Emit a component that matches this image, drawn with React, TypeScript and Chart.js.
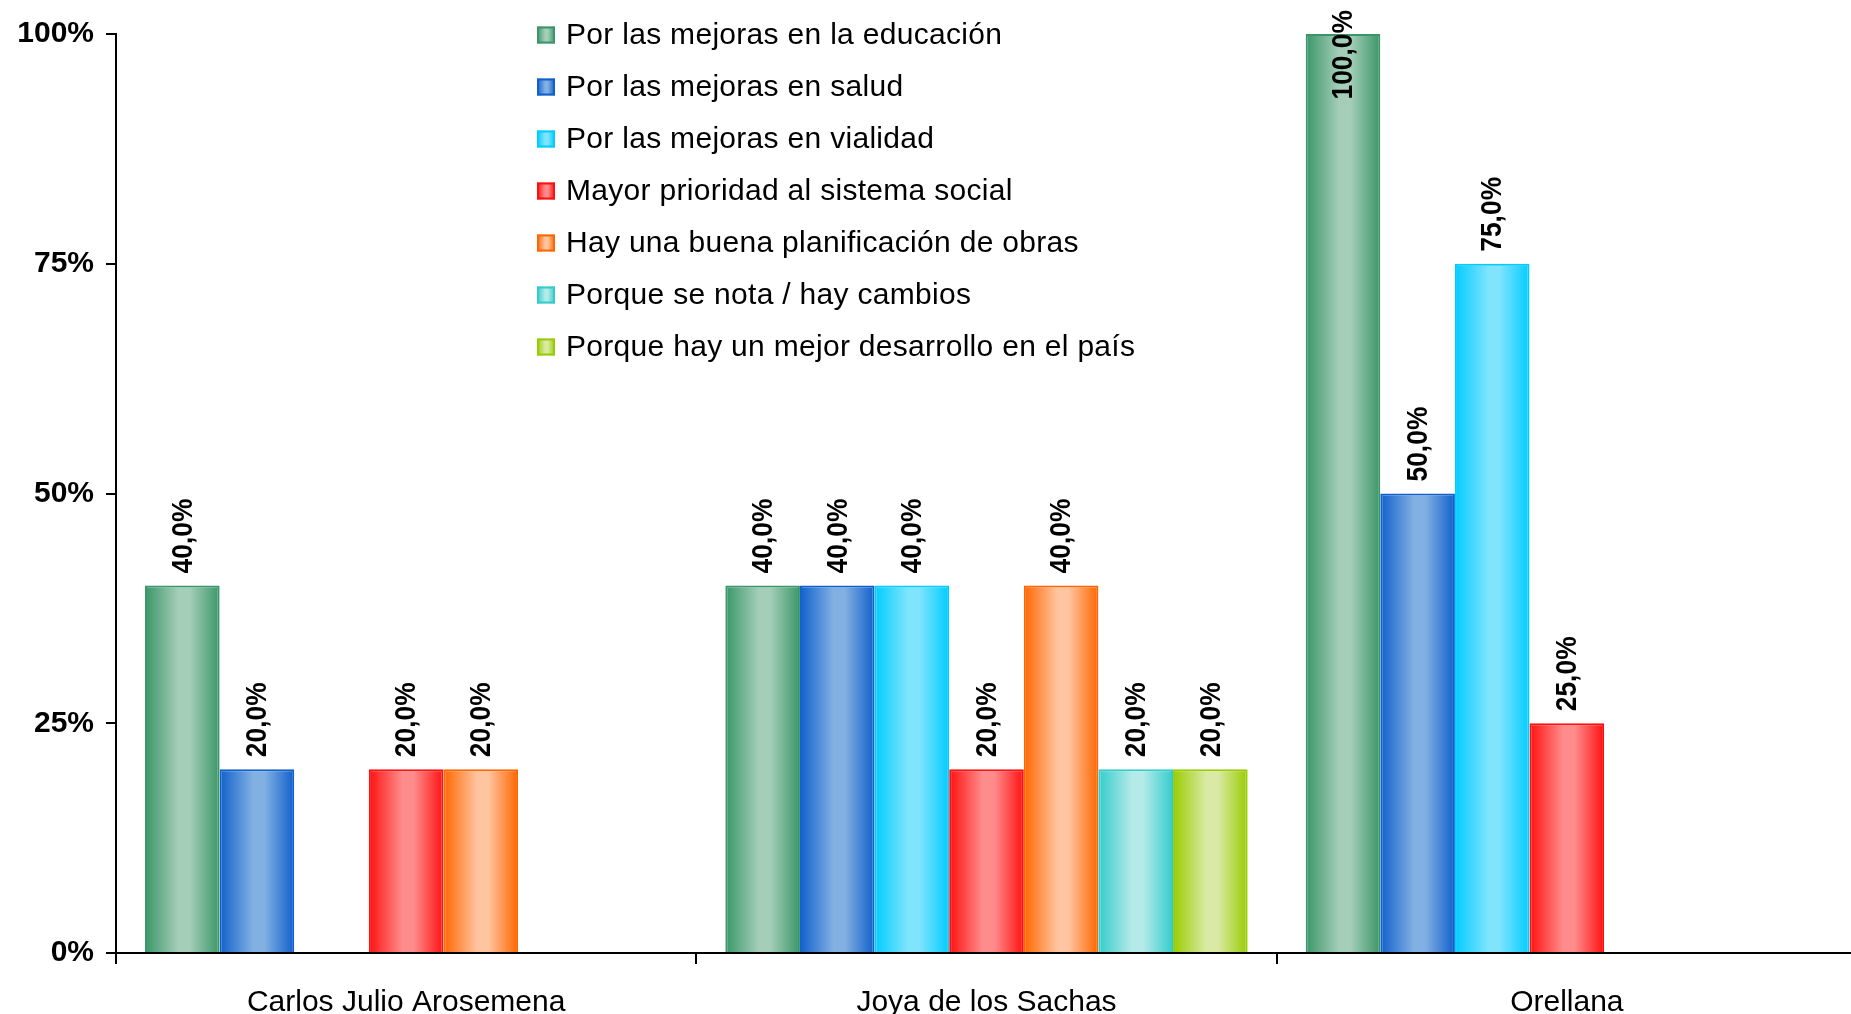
import React, { useEffect, useRef } from "react";
import { Chart, registerables } from "chart.js";

Chart.register(...registerables);

// ---- data ----
const CATEGORIES = ["Carlos Julio Arosemena", "Joya de los Sachas", "Orellana"];
const SERIES_LABELS = [
  "Por las mejoras en la educación",
  "Por las mejoras en salud",
  "Por las mejoras en vialidad",
  "Mayor prioridad al sistema social",
  "Hay una buena planificación de obras",
  "Porque se nota / hay cambios",
  "Porque hay un mejor desarrollo en el país",
];
const EDUCACION = [40, 40, 100];
const SALUD = [20, 40, 50];
const VIALIDAD = [null, 40, 75];
const SOCIAL = [20, 20, 25];
const PLANIFICACION = [20, 40, null];
const CAMBIOS = [null, 20, null];
const DESARROLLO = [null, 20, null];
const SERIES_VALUES = [EDUCACION, SALUD, VIALIDAD, SOCIAL, PLANIFICACION, CAMBIOS, DESARROLLO];
const Y_MAX = 100;
const Y_STEP = 25;

// ---- styles ----
const DARK = ["#3a9668", "#1060cc", "#00ccff", "#ff1010", "#ff6600", "#33cccc", "#99cc00"];
const LIGHT = ["#a4ceb8", "#82b0e2", "#80e4fc", "#ff8c8c", "#ffc4a0", "#b4eae8", "#daeaa6"];
const FONT = "'Liberation Sans', Arial, sans-serif";
const CANVAS_W = 1857;
const CANVAS_H = 1014;

function makeGradient(ctx: CanvasRenderingContext2D, x0: number, x1: number, i: number) {
  const g = ctx.createLinearGradient(x0, 0, x1, 0);
  g.addColorStop(0, DARK[i]);
  g.addColorStop(0.45, LIGHT[i]);
  g.addColorStop(0.6, LIGHT[i]);
  g.addColorStop(1, DARK[i]);
  return g;
}

const gradientPlugin = {
  id: "barGradient",
  beforeDatasetDraw(chart: any, args: any) {
    const meta = args.meta;
    const i = args.index;
    meta.data.forEach((el: any) => {
      if (!el.options || Object.isFrozen(el.options)) return;
      const { x, width } = el.getProps(["x", "width"], true);
      if (!isFinite(x) || !isFinite(width)) return;
      el.options.backgroundColor = makeGradient(chart.ctx, x - width / 2, x + width / 2, i);
    });
  },
};

const labelPlugin = {
  id: "valueLabels",
  afterDatasetsDraw(chart: any) {
    const ctx = chart.ctx;
    const sx = 0.88;
    ctx.save();
    ctx.font = `bold 30px ${FONT}`;
    ctx.fillStyle = "#000";
    chart.data.datasets.forEach((ds: any, di: number) => {
      const meta = chart.getDatasetMeta(di);
      meta.data.forEach((el: any, idx: number) => {
        const v = ds.data[idx];
        if (v === null || v === undefined) return;
        const { x, y } = el.getProps(["x", "y"], true);
        const text = v.toFixed(1).replace(".", ",") + "%";
        const w = ctx.measureText(text).width * sx;
        let base = y - 12;
        if (base - w < 10) base = 10 + w;
        ctx.save();
        ctx.translate(x, base);
        ctx.rotate(-Math.PI / 2);
        ctx.scale(sx, 1);
        ctx.textAlign = "left";
        ctx.textBaseline = "middle";
        ctx.fillText(text, 0, 1);
        ctx.restore();
      });
    });
    ctx.restore();
  },
};

const legendPlugin = {
  id: "insideLegend",
  afterDraw(chart: any) {
    const ctx = chart.ctx;
    ctx.save();
    ctx.font = `30px ${FONT}`;
    try {
      (ctx as any).letterSpacing = "0.3px";
    } catch (e) {}
    ctx.textBaseline = "middle";
    ctx.textAlign = "left";
    chart.data.datasets.forEach((ds: any, i: number) => {
      const cy = 35 + 52 * i;
      const bx = 537;
      const bw = 18;
      const bh = 17;
      ctx.fillStyle = makeGradient(ctx, bx, bx + bw, i);
      ctx.fillRect(bx, cy - bh / 2, bw, bh);
      ctx.strokeStyle = DARK[i];
      ctx.lineWidth = 2;
      ctx.strokeRect(bx + 1, cy - bh / 2 + 1, bw - 2, bh - 2);
      ctx.fillStyle = "#000";
      ctx.fillText(ds.label, 566, cy + 1);
    });
    ctx.restore();
  },
};

export default function App() {
  const ref = useRef<HTMLCanvasElement | null>(null);
  useEffect(() => {
    if (!ref.current) return;
    const chart = new Chart(ref.current, {
      type: "bar",
      data: {
        labels: CATEGORIES,
        datasets: SERIES_LABELS.map((label, i) => ({
          label,
          data: SERIES_VALUES[i],
          backgroundColor: () => LIGHT[i],
          borderColor: DARK[i],
          borderWidth: 2,
          borderSkipped: "start",
          categoryPercentage: 0.9,
          barPercentage: 1,
        })),
      },
      options: {
        responsive: false,
        animation: false,
        layout: { padding: { top: 34, right: 0, left: 0, bottom: 0 } },
        plugins: {
          legend: { display: false },
          tooltip: { enabled: false },
        },
        scales: {
          x: {
            afterFit: (s: any) => {
              s.height = 61;
            },
            grid: {
              offset: true,
              drawOnChartArea: false,
              drawTicks: true,
              tickLength: 11,
              color: "#000",
              lineWidth: 2,
            },
            border: { color: "#000", width: 2 },
            ticks: {
              color: "#000",
              padding: 21,
              font: { family: FONT, size: 30 },
              maxRotation: 0,
              autoSkip: false,
            },
          },
          y: {
            min: 0,
            max: Y_MAX,
            afterFit: (s: any) => {
              s.width = 116;
            },
            grid: {
              drawOnChartArea: false,
              drawTicks: true,
              tickLength: 10,
              color: "#000",
              lineWidth: 2,
            },
            border: { color: "#000", width: 2 },
            ticks: {
              stepSize: Y_STEP,
              color: "#000",
              padding: 12,
              font: { family: FONT, size: 30, weight: "bold" },
              callback: (v: any) => v + "%",
            },
          },
        },
      },
      plugins: [gradientPlugin, labelPlugin, legendPlugin],
    } as any);
    return () => chart.destroy();
  }, []);
  return (
    <div
      style={{
        position: "fixed",
        left: 0,
        top: 0,
        width: 1851,
        height: 1014,
        overflow: "hidden",
        background: "#fff",
      }}
    >
      <canvas
        ref={ref}
        width={CANVAS_W}
        height={CANVAS_H}
        style={{ width: CANVAS_W, height: CANVAS_H, display: "block" }}
      />
    </div>
  );
}
